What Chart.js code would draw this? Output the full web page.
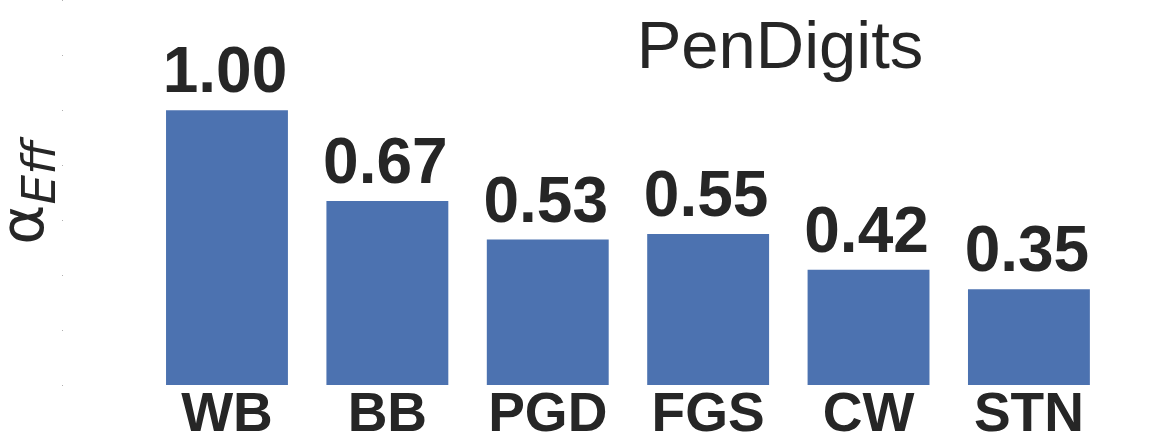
<!DOCTYPE html>
<html>
<head>
<meta charset="utf-8">
<script src="https://cdn.jsdelivr.net/npm/chart.js@4"></script>
<style>
  html, body { margin: 0; padding: 0; background: #ffffff; }
  #wrap { width: 1159px; height: 446px; position: relative; }
</style>
</head>
<body>
<div id="wrap"><canvas id="effChart"></canvas></div>
<script>
// Données du graphique
const categories = ['WB', 'BB', 'PGD', 'FGS', 'CW', 'STN'];
const alphaEff = [1.00, 0.67, 0.53, 0.55, 0.42, 0.35];
const yTicks = [0, 0.2, 0.4, 0.6, 0.8, 1.0, 1.2, 1.4];
const chartTitle = 'PenDigits';

const TEXT_COLOR = '#262626';
const BAR_COLOR = '#4C72B0';

// Plugin : valeurs au-dessus des barres, titre et label de l'axe Y
const annotationsPlugin = {
    id: 'annotations',
    afterDatasetsDraw(chart) {
        const ctx = chart.ctx;
        const meta = chart.getDatasetMeta(0);
        ctx.save();
        ctx.fillStyle = TEXT_COLOR;
        ctx.font = 'bold 64px "Liberation Sans", Arial, sans-serif';
        ctx.textAlign = 'center';
        ctx.textBaseline = 'alphabetic';
        meta.data.forEach((bar, i) => {
            ctx.fillText(alphaEff[i].toFixed(2), bar.x - 2, bar.y - 18);
        });

        // Titre dans la zone du graphique
        ctx.font = '67px "Liberation Sans", Arial, sans-serif';
        ctx.fillText(chartTitle, 780, 68);

        // Label Y : alpha avec indice Eff
        const yMid = (chart.chartArea.top + chart.chartArea.bottom) / 2;
        ctx.translate(43, yMid + 52);
        ctx.rotate(-Math.PI / 2);
        ctx.textAlign = 'left';
        ctx.font = '61px "DejaVu Sans", sans-serif';
        ctx.fillText('α', 0, 0);
        const w = ctx.measureText('α').width;
        ctx.font = 'italic 47px "DejaVu Sans", sans-serif';
        ctx.fillText('Eff', w, 12);
        ctx.restore();
    }
};

function createEffChart() {
    const canvas = document.getElementById('effChart');
    const ctx = canvas.getContext('2d');

    return new Chart(ctx, {
        type: 'bar',
        data: {
            datasets: [{
                data: alphaEff.map((v, i) => ({ x: i, y: v })),
                backgroundColor: BAR_COLOR,
                borderWidth: 0,
                categoryPercentage: 1.0,
                barPercentage: 0.76
            }]
        },
        options: {
            responsive: true,
            maintainAspectRatio: false,
            animation: false,
            layout: { padding: { left: 62, right: 0, top: 0, bottom: 0 } },
            plugins: {
                legend: { display: false },
                tooltip: { enabled: false }
            },
            scales: {
                x: {
                    type: 'linear',
                    min: -1.0224,
                    max: 5.811,
                    offset: false,
                    afterBuildTicks(scale) {
                        scale.ticks = categories.map((c, i) => ({ value: i }));
                    },
                    ticks: {
                        autoSkip: false,
                        maxRotation: 0,
                        padding: 0,
                        color: TEXT_COLOR,
                        font: { family: '"Liberation Sans", Arial, sans-serif', size: 55, weight: 'bold', lineHeight: 1.1 },
                        callback: (value) => categories[value] ?? ''
                    },
                    grid: { display: false, drawTicks: false },
                    border: { display: false }
                },
                y: {
                    min: 0,
                    max: 1.4,
                    afterBuildTicks(scale) {
                        scale.ticks = yTicks.map(v => ({ value: v }));
                    },
                    ticks: { display: false },
                    grid: {
                        drawOnChartArea: false,
                        drawTicks: true,
                        tickLength: 1,
                        color: '#b0b0b0',
                        lineWidth: 1
                    },
                    border: { display: false }
                }
            }
        },
        plugins: [annotationsPlugin]
    });
}

window.effChart = createEffChart();
</script>
</body>
</html>
